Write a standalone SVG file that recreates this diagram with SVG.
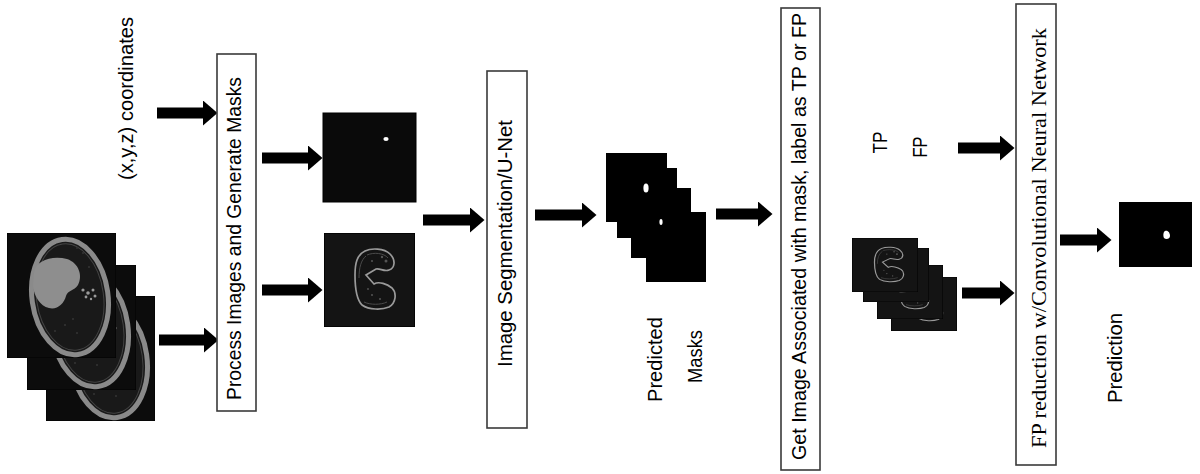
<svg xmlns="http://www.w3.org/2000/svg" xmlns:xlink="http://www.w3.org/1999/xlink" width="1200" height="474" viewBox="0 0 1200 474">
<style>
  .box{fill:#fff;stroke:#3a3a3a;stroke-width:1.6}
  .t{font-family:"Liberation Sans",Arial,sans-serif;font-size:20px;fill:#000}
  .ts{font-family:"Liberation Serif","Times New Roman",serif;font-size:21px;fill:#000}
  .arrow{stroke:#000;stroke-width:11;fill:none;marker-end:url(#ah)}
  .blk{fill:#000}
</style>
<defs>
  <marker id="ah" markerUnits="userSpaceOnUse" markerWidth="15" markerHeight="25" viewBox="0 0 15 25" refX="0" refY="12.5" orient="auto">
    <path d="M0,0 L14.5,12.5 L0,25 Z" fill="#000"/>
  </marker>
  <symbol id="ct" viewBox="0 0 109 125" preserveAspectRatio="none">
    <rect x="0" y="0" width="109" height="125" fill="#0c0c0c" stroke="#000" stroke-width="1"/>
    <ellipse cx="63" cy="64" rx="38" ry="58" transform="rotate(-8 63 64)" fill="#191919" stroke="#8a8a8a" stroke-width="5"/>
    <ellipse cx="63" cy="64" rx="33.5" ry="53.5" transform="rotate(-8 63 64)" fill="none" stroke="#444" stroke-width="1"/>
    <path d="M27,40 C28,27 46,22 60,26 C72,30 76,43 71,52 C67,58 61,57 59,63 C57,71 50,77 42,75 C33,73 27,63 26,53 Z" fill="#8e8e8e"/>
    <g fill="#9a9a9a">
      <circle cx="76" cy="57" r="1.6"/><circle cx="81" cy="60" r="1.8"/><circle cx="86" cy="57" r="1.5"/>
      <circle cx="79" cy="64" r="1.4"/><circle cx="88" cy="63" r="1.5"/><circle cx="84" cy="66" r="1.2"/>
    </g>
    <g fill="#343434">
      <circle cx="76" cy="20" r="1"/><circle cx="82" cy="34" r="1"/><circle cx="70" cy="15" r="0.9"/>
      <circle cx="58" cy="92" r="1.1"/><circle cx="66" cy="86" r="1"/><circle cx="48" cy="98" r="1"/><circle cx="70" cy="100" r="1"/>
    </g>
  </symbol>
  <symbol id="kid" viewBox="0 0 91 94" preserveAspectRatio="none">
    <rect x="0" y="0" width="91" height="94" fill="#141414" stroke="#000" stroke-width="1.5"/>
    <path d="M41,18 C47,15 60,15 66,21 C72,27 71,35 65,37 C60,39 56,35 52,36 L42,42 L50,51 C55,48 63,51 68,55 C73,60 72,70 65,74 C58,77 45,77 38,72 C32,66 31,52 31,42 C31,30 33,22 41,18 Z" fill="none" stroke="#9a9a9a" stroke-width="1.7"/>
    <path d="M43,22 C50,19 60,20 64,25 M35,45 C35,35 37,27 42,23 M40,69 C46,72 57,72 63,69" fill="none" stroke="#4a4a4a" stroke-width="1"/>
    <g fill="#555">
      <circle cx="58" cy="24" r="1.2"/><circle cx="62" cy="28" r="1.5"/><circle cx="48" cy="28" r="1"/>
      <circle cx="48" cy="62" r="1"/><circle cx="56" cy="66" r="1"/><circle cx="44" cy="56" r="0.9"/>
    </g>
  </symbol>
</defs>
<rect x="0" y="0" width="1200" height="474" fill="#fff"/>

<g id="connectors">
  <line class="arrow" x1="157" y1="113" x2="203" y2="113"/>
  <line class="arrow" x1="159" y1="340" x2="204" y2="340"/>
  <line class="arrow" x1="262" y1="158" x2="308" y2="158"/>
  <line class="arrow" x1="262" y1="290" x2="308" y2="290"/>
  <line class="arrow" x1="423" y1="220" x2="470" y2="220"/>
  <line class="arrow" x1="535" y1="215" x2="582" y2="215"/>
  <line class="arrow" x1="716" y1="214" x2="758" y2="214"/>
  <line class="arrow" x1="958" y1="148" x2="1000" y2="148"/>
  <line class="arrow" x1="962" y1="293" x2="1000" y2="293"/>
  <line class="arrow" x1="1060" y1="240" x2="1097" y2="240"/>
</g>

<g id="coords">
  <text class="t" transform="translate(133,98.5) rotate(-90)" text-anchor="middle" textLength="163" lengthAdjust="spacingAndGlyphs">(x,y,z) coordinates</text>
</g>

<g id="ct-stack">
  <use xlink:href="#ct" href="#ct" x="46" y="296" width="109" height="125"/>
  <use xlink:href="#ct" href="#ct" x="27" y="265" width="109" height="125"/>
  <use xlink:href="#ct" href="#ct" x="7" y="233" width="109" height="125"/>
</g>

<g id="process">
  <rect class="box" x="217" y="54" width="39" height="357"/>
  <text class="t" transform="translate(241,238.5) rotate(-90)" text-anchor="middle" textLength="323" lengthAdjust="spacingAndGlyphs">Process Images and Generate Masks</text>
</g>

<g id="mask-nodule">
  <rect x="323" y="113" width="93" height="89" fill="#0a0a0a" stroke="#000" stroke-width="1"/>
  <ellipse cx="386" cy="139" rx="2.6" ry="2" fill="#fff"/>
</g>

<g id="mask-lung">
  <use xlink:href="#kid" href="#kid" x="324" y="233" width="91" height="94"/>
</g>

<g id="unet">
  <rect class="box" x="487" y="71" width="40" height="357"/>
  <text class="t" transform="translate(512,243.5) rotate(-90)" text-anchor="middle" textLength="247" lengthAdjust="spacingAndGlyphs">Image Segmentation/U-Net</text>
</g>

<g id="predicted-masks">
  <rect class="blk" x="646" y="212" width="60" height="70"/>
  <rect class="blk" x="631" y="188" width="60" height="70"/>
  <rect class="blk" x="617" y="168" width="60" height="70"/>
  <rect class="blk" x="606" y="153" width="61" height="69"/>
  <ellipse cx="646" cy="188" rx="2.6" ry="4.5" fill="#fff"/>
  <ellipse cx="661" cy="222" rx="1.6" ry="3" fill="#fff"/>
  <text class="t" transform="translate(662,359.5) rotate(-90)" text-anchor="middle" textLength="85" lengthAdjust="spacingAndGlyphs">Predicted</text>
  <text class="t" transform="translate(702,356.5) rotate(-90)" text-anchor="middle" textLength="53" lengthAdjust="spacingAndGlyphs">Masks</text>
</g>

<g id="label-tpfp">
  <rect class="box" x="781" y="8" width="39" height="462"/>
  <text class="t" transform="translate(806,236.5) rotate(-90)" text-anchor="middle" textLength="447" lengthAdjust="spacingAndGlyphs">Get Image Associated with mask, label as TP or FP</text>
</g>

<g id="tp-fp">
  <text class="t" transform="translate(887,142.5) rotate(-90)" text-anchor="middle" textLength="22" lengthAdjust="spacingAndGlyphs">TP</text>
  <text class="t" transform="translate(927,147) rotate(-90)" text-anchor="middle" textLength="21" lengthAdjust="spacingAndGlyphs">FP</text>
</g>

<g id="candidate-stack">
  <use xlink:href="#kid" href="#kid" x="891" y="277" width="66" height="54"/>
  <use xlink:href="#kid" href="#kid" x="877" y="265" width="66" height="54"/>
  <use xlink:href="#kid" href="#kid" x="863" y="248" width="66" height="54"/>
  <use xlink:href="#kid" href="#kid" x="852" y="238" width="66" height="54"/>
</g>

<g id="cnn">
  <rect class="box" x="1016" y="4" width="40" height="461"/>
  <text class="ts" transform="translate(1046,238) rotate(-90)" text-anchor="middle" textLength="420" lengthAdjust="spacingAndGlyphs">FP reduction w/Convolutional Neural Network</text>
</g>

<g id="prediction">
  <rect class="blk" x="1119" y="202" width="73" height="65"/>
  <path d="M1165,231 C1168,230 1170,233 1170,236 C1170,239 1166,240 1164,238 C1163,236 1163,232 1165,231 Z" fill="#fff"/>
  <text class="t" transform="translate(1122,358) rotate(-90)" text-anchor="middle" textLength="90" lengthAdjust="spacingAndGlyphs">Prediction</text>
</g>
</svg>
